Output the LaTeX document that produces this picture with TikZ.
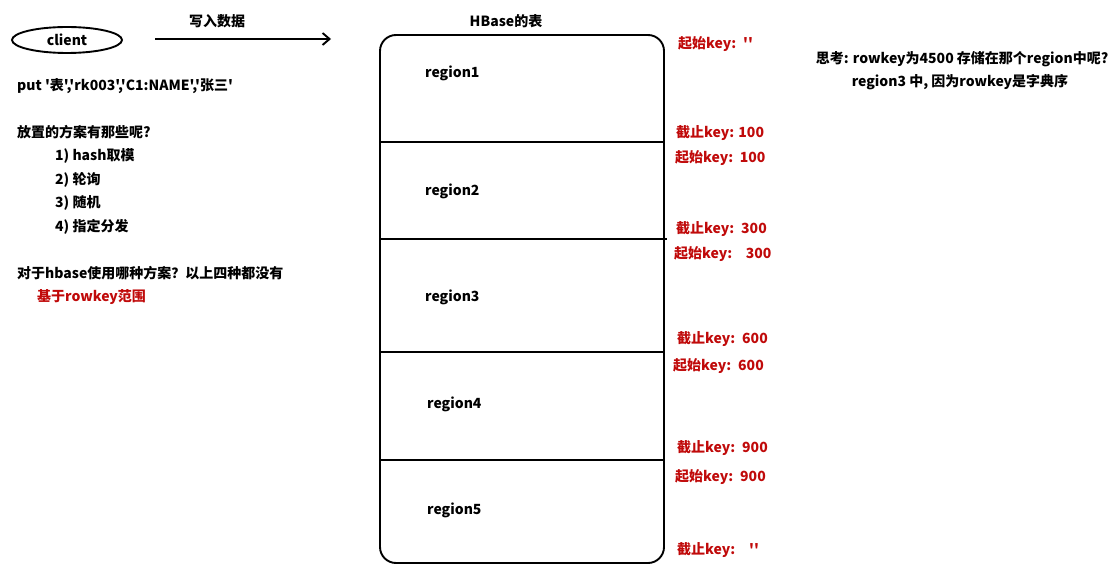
\documentclass[tikz,border=0pt]{standalone}
\usepackage{fontspec}
\newfontfamily\cjk{Noto Sans CJK SC}
\usetikzlibrary{arrows.meta,shapes.geometric}
\definecolor{keyred}{RGB}{192,10,10}
\begin{document}
\begin{tikzpicture}[x=1pt,y=-1pt,
  txt/.style={font=\cjk\bfseries\fontsize{14}{16}\selectfont, inner sep=0pt, anchor=west},
  redtxt/.style={txt, text=keyred},
  line/.style={line width=1.9pt}]
\useasboundingbox (0,0) rectangle (1118,585);
% client
\node[draw, ellipse, line width=1.9pt, minimum width=110pt, minimum height=26pt, inner sep=0pt, font=\cjk\bfseries\fontsize{14}{16}\selectfont] (client) at (67,40) {client};
\coordinate (arrS) at (155,39);
\coordinate (arrE) at (331,39);
\draw[line, -{Straight Barb[length=7pt,width=12pt,line width=1.9pt]}] (arrS) -- (arrE);
\node[txt, anchor=center] (write) at (217,21) {写入数据};
\node[txt] (put) at (17,86) {put '表','rk003','C1:NAME','张三'};
\node[txt] (q1) at (17,132) {放置的方案有那些呢?};
\node[txt] (o1) at (55,156) {1) hash取模};
\node[txt] (o2) at (55,180) {2) 轮询};
\node[txt] (o3) at (55,203) {3) 随机};
\node[txt] (o4) at (55,227) {4) 指定分发};
\node[txt] (q2) at (17,273) {对于hbase使用哪种方案？以上四种都没有};
\node[redtxt] (ans) at (37,297) {基于rowkey范围};
% table
\node[txt, anchor=center] (title) at (506,21) {HBase的表};
\draw[line, rounded corners=16pt] (380,35) rectangle (664,563);
\coordinate (d1l) at (380,142); \coordinate (d1r) at (664,142);
\coordinate (d2l) at (380,239); \coordinate (d2r) at (667,239);
\coordinate (d3l) at (380,352); \coordinate (d3r) at (664,352);
\coordinate (d4l) at (380,460); \coordinate (d4r) at (664,460);
\draw[line] (d1l) -- (d1r);
\draw[line] (d2l) -- (d2r);
\draw[line] (d3l) -- (d3r);
\draw[line] (d4l) -- (d4r);
\node[txt] (r1) at (425,73) {region1};
\node[txt] (r2) at (425,191) {region2};
\node[txt] (r3) at (425,297) {region3};
\node[txt] (r4) at (427,404) {region4};
\node[txt] (r5) at (427,510) {region5};
% keys
\node[redtxt] (k1) at (678,44) {起始key:\enspace''};
\node[redtxt] (k2) at (676,133) {截止key: 100};
\node[redtxt] (k3) at (675,158) {起始key:\, 100};
\node[redtxt] (k4) at (676,229) {截止key:\enspace 300};
\node[redtxt] (k5) at (674,254) {起始key:\enspace\, 300};
\node[redtxt] (k6) at (677,339) {截止key:\enspace 600};
\node[redtxt] (k7) at (673,366) {起始key:\enspace 600};
\node[redtxt] (k8) at (677,448) {截止key:\enspace 900};
\node[redtxt] (k9) at (675,477) {起始key:\enspace 900};
\node[redtxt] (k10) at (677,550) {截止key:\quad ''};
% thoughts
\node[txt, anchor=center] (t1) at (962,59) {思考: rowkey为4500 存储在那个region中呢?};
\node[txt, anchor=center] (t2) at (960,82) {region3 中, 因为rowkey是字典序};
\end{tikzpicture}
\end{document}
